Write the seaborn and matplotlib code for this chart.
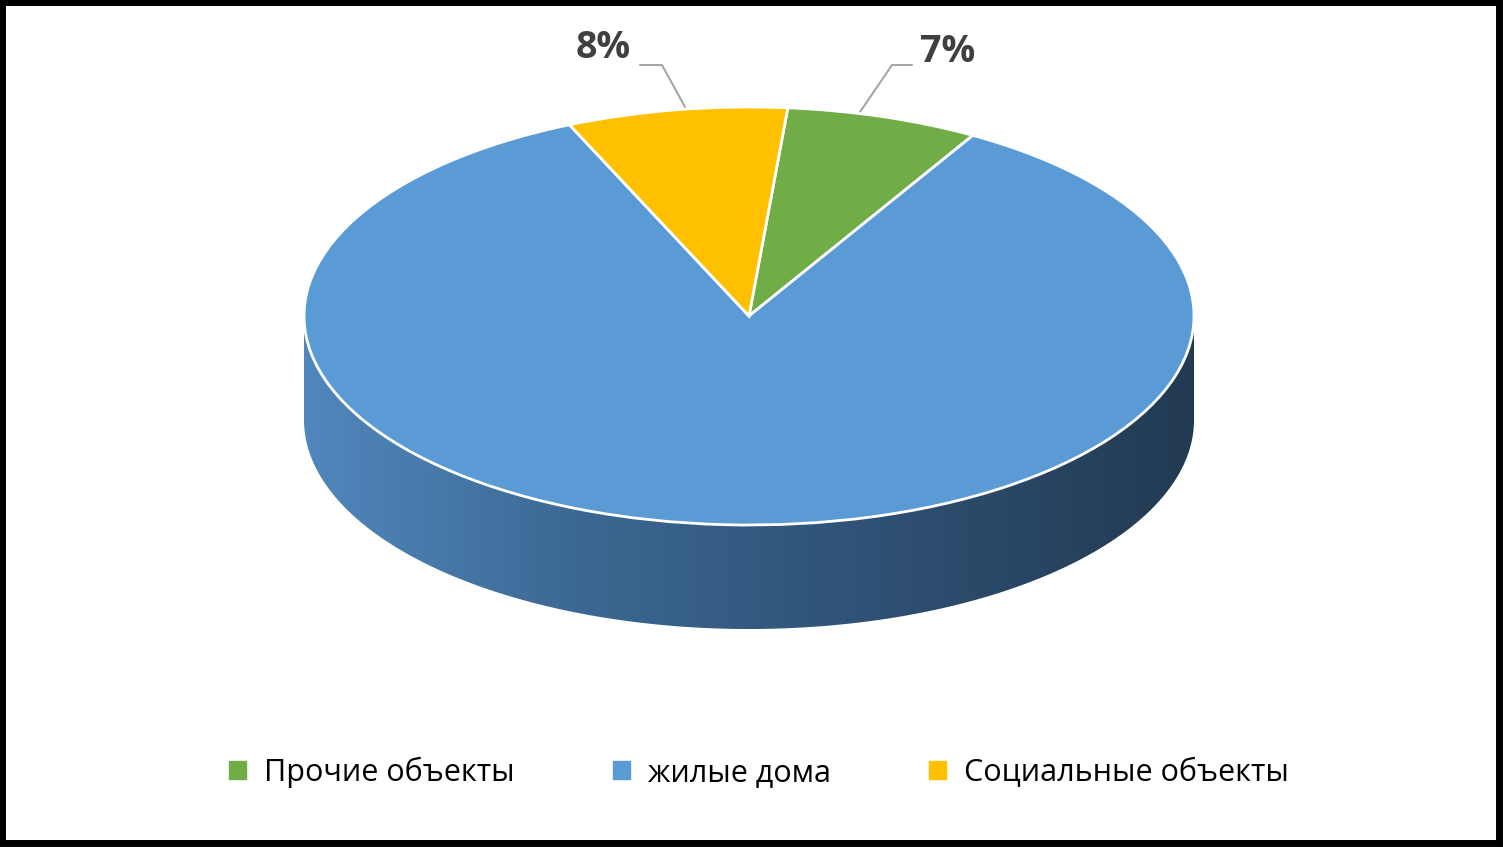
import matplotlib
matplotlib.use("Agg")
import matplotlib.pyplot as plt
import seaborn as sns
import numpy as np
from matplotlib.patches import Polygon, Rectangle

sns.set_theme(style="white")
plt.rcParams['font.family'] = ['Open Sans', 'DejaVu Sans']

categories = ["Прочие объекты", "жилые дома", "Социальные объекты"]
values = [7, 85, 8]
colors = ["#70ad47", "#5b9bd5", "#ffc000"]

W, H = 1503, 847
fig = plt.figure(figsize=(W/100, H/100), dpi=100)
fig.patch.set_facecolor("white")

# background pixel axes
bg = fig.add_axes([0, 0, 1, 1])
bg.set_xlim(0, W); bg.set_ylim(H, 0); bg.axis("off")
bg.add_patch(Rectangle((2, 2), W-6, H-6, fill=False, ec="black", lw=5))

# side band of the 3D pie
cx, cy, a, b, depth = 749, 316, 445, 209, 104
t = np.linspace(np.pi, 2*np.pi, 200)
top = np.c_[cx + a*np.cos(t), cy - b*np.sin(t)]
bot = top[::-1] + [0, depth]
band = Polygon(np.vstack([top, bot]), closed=True, fc="none", ec="none")
bg.add_patch(band)
cmap = matplotlib.colors.LinearSegmentedColormap.from_list("s", ["#5187bd", "#3a6690", "#2e4f72", "#223a52"])
grad = np.linspace(0, 1, 256)[None, :]
im = bg.imshow(grad, cmap=cmap, extent=[cx-a, cx+a, cy+b+depth, cy-10], aspect="auto", zorder=1)
im.set_clip_path(band)

# pie top face
pax = fig.add_axes([(cx-a)/W, 1-(cy+b)/H, 2*a/W, 2*b/H])
pax.pie(values, colors=colors, startangle=85, counterclock=False, radius=1,
        wedgeprops=dict(edgecolor="white", linewidth=2))
pax.set_aspect("auto"); pax.set_xlim(-1, 1); pax.set_ylim(-1, 1); pax.axis("off")

# labels
lc = "#404040"
bg.text(753, 402, f"{values[1]}%", ha="center", va="center", fontsize=27, fontweight="bold", color=lc, zorder=5)
bg.text(603, 48, f"{values[2]}%", ha="center", va="center", fontsize=27, fontweight="bold", color=lc, zorder=5)
bg.text(948, 52, f"{values[0]}%", ha="center", va="center", fontsize=27, fontweight="bold", color=lc, zorder=5)
bg.plot([640, 662, 685], [65, 65, 107], color="#a6a6a6", lw=1.5, zorder=5)
bg.plot([912, 892, 860], [65, 65, 112], color="#a6a6a6", lw=1.5, zorder=5)

# legend
handles = [Rectangle((0, 0), 1, 1, color=c) for c in colors]
fig.legend(handles, categories, loc="center", bbox_to_anchor=(0.505, 1-772/H), ncol=3,
           frameon=False, fontsize=22, handlelength=0.55, handleheight=0.55,
           columnspacing=3.2, handletextpad=0.6, labelcolor="black")

fig.savefig("out.png", dpi=100)
